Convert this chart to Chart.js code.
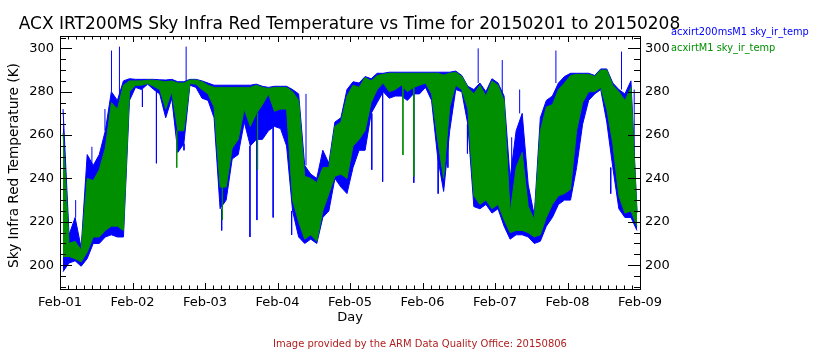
<!DOCTYPE html>
<html lang="en">
<head>
<meta charset="utf-8"/>
<title>ACX IRT200MS Sky Infra Red Temperature</title>
<script src="https://cdn.jsdelivr.net/npm/chart.js@4.4.1/dist/chart.umd.min.js"></script>
<style>
  html, body { margin: 0; padding: 0; background: #fff; }
</style>
</head>
<body>
<canvas id="myChart" width="840" height="350"></canvas>
<script>
  // two-hour bins from Feb-01 00:00: bulk of the trace (upper / lower edge, K)
  var binDays = 1 / 12;
  var greenHi = [261,210,211,207,240,239,244,254,275,272,283,285,
                 285,285,285.3,285.3,285,284.6,285,284,284,285.4,285.4,284.6,
                 283,282,282,282,282,282,282,282,283,282,281.5,282,
                 282,282,280,276,241,240,238,245,245,264,266,278,
                 283,282,286.5,285,287.5,288,288.5,288.5,288.5,288.5,288.5,288.5,
                 288.5,288.5,288.5,287.7,288.5,289,287,282,279,283,278,285,
                 283,276,224,245,252,227,221,262,273,274,281,284,
                 287.5,288,288,288,287,290,290,283,280,276,282,224];
  var greenLo = [204,204,203,201.5,206,213,213,216,218,218,216,280,
                 283,283,283.8,282.5,281,272,280,262,262,283.8,283.5,281,
                 279,273,236,236,254,258,272,264,270,274,279,271,
                 272,272,230,220,212,214,211,225,233,241,242,240,
                 255,258,262,275,281,284,280,281,283,280,282,283,
                 284,279,258,240,273,283,281,272,232,228,230,226,
                 228,221,215,216,216,215,213,214,222,228,232,233,
                 235,262,275,280,280,282,272,256,232,224,225,218];
  var blueHi = [272,214,222,208,251,246,251,262,280,276,285,286,
                285.7,285.7,285.7,285.7,285.5,285.4,285.7,284.6,284.6,285.7,285.7,285,
                284,283,283,283,283,283,283,283,283.5,282.5,282,282.5,
                282.5,282.5,281,279,246,242,240,253,247,266,268,281,
                284.6,284,287,286,288.5,288.5,289,289,289,289,289,289,
                289,289,289,289,289,289.5,287.5,282.5,281,284,280,286,
                284,278,240,262,270,237,223,268,276,278,284,287,
                288.5,288.5,288.5,288.5,287.5,290.5,290.5,284,281,279,285,225];
  var blueLo = [197,201,202,199.5,203,210,210,213,214,213,213,276,
                282,281,283.5,281,279,268,277,252,256,283,282,277,
                276,268,226,230,249,251,266,255,258,258,262,264,
                263,255,225,213,210,212,210,222,225,240,236,233,
                245,253,253,270,275,280,277,278,278,276,279,279,
                282,276,250,234,262,281,280,265,227,226,228,224,
                226,218,212,214,214,213,210,211,218,222,228,230,
                230,245,265,276,279,281,266,245,226,222,222,216];

  // isolated single-sample spikes: time (days after Feb-01 00:00) and tip value (K)
  var blueSpikeDay = [0.216,0.44,0.62,0.71,0.82,1.137,1.33,1.71,1.74,2.23,2.62,2.716,2.94,3.195,3.393,
                      4.30,4.45,4.88,5.216,5.35,5.62,5.768,6.10,6.23,6.34,6.84,7.596,7.745,7.92];
  var blueSpikeTip = [230,254.6,272,299,300.8,273,247,253,300.8,216,213,220.8,222,214,279,
                      244,238.5,238,233,245,251.5,300,294.6,259,281,299,233,298.5,281];
  var greenSpikeDay = [1.61,2.24,2.725,4.73,4.88];
  var greenSpikeTip = [245,221,244,250.8,241];

  var dayTicks = [0, 1, 2, 3, 4, 5, 6, 7, 8];
  var dayLabels = ["Feb-01", "Feb-02", "Feb-03", "Feb-04", "Feb-05", "Feb-06", "Feb-07", "Feb-08", "Feb-09"];
  var tempTicks = [200, 220, 240, 260, 280, 300];

  var titleText = "ACX IRT200MS Sky Infra Red Temperature vs Time for 20150201 to 20150208";
  var seriesNames = ["acxirt200msM1 sky_ir_temp", "acxirtM1 sky_ir_temp"];
  var footerText = "Image provided by the ARM Data Quality Office: 20150806";

  var BLUE = "#0000ff";
  var GREEN = "#008f00";
  var FAMILY = "'DejaVu Sans', sans-serif";

  function edge(vals) {
    return vals.map(function (v, i) { return { x: (i + 0.5) * binDays, y: v }; });
  }

  // each spike is a vertical stroke from the edge of the bulk to its tip
  function spikes(days, tips, hi, lo) {
    var pts = [];
    days.forEach(function (d, i) {
      var b = Math.min(hi.length - 1, Math.floor(d / binDays));
      var base = tips[i] > hi[b] ? hi[b] : lo[b];
      pts.push({ x: d, y: base }, { x: d, y: tips[i] }, { x: d, y: null });
    });
    return pts;
  }

  var measureCtx = document.createElement("canvas").getContext("2d");
  function fitSize(text, width) {
    measureCtx.font = "100px " + FAMILY;
    return 100 * width / measureCtx.measureText(text).width;
  }

  var tickFont = { family: FAMILY, size: 13 };

  var decorations = {
    id: "decorations",
    afterDraw: function (chart) {
      var ctx = chart.ctx, a = chart.chartArea;
      var xs = chart.scales.x, ys = chart.scales.y;
      ctx.save();
      ctx.strokeStyle = "#000";
      ctx.lineWidth = 1;
      ctx.strokeRect(a.left + 0.5, a.top + 0.5, a.right - a.left, a.bottom - a.top);

      ctx.beginPath();
      for (var d = 0; d <= 8 * 9; d++) {
        var px = Math.round(xs.getPixelForValue(d / 9)) + 0.5;
        var len = (d % 9 === 0) ? 6 : 3.5;
        ctx.moveTo(px, a.bottom); ctx.lineTo(px, a.bottom - len);
        ctx.moveTo(px, a.top); ctx.lineTo(px, a.top + len);
      }
      for (var v = 190; v <= 305; v += 5) {
        var py = Math.round(ys.getPixelForValue(v)) + 0.5;
        var l = (v % 20 === 0) ? 12 : 6;
        ctx.moveTo(a.left, py); ctx.lineTo(a.left + l, py);
        ctx.moveTo(a.right, py); ctx.lineTo(a.right - l, py);
      }
      ctx.stroke();

      ctx.fillStyle = "#000";
      ctx.textBaseline = "alphabetic";
      ctx.textAlign = "center";
      ctx.font = fitSize(titleText, 662).toFixed(2) + "px " + FAMILY;
      ctx.fillText(titleText, 349.5, 29);

      ctx.font = "13px " + FAMILY;
      ctx.fillText("Day", 350, 321);

      ctx.save();
      ctx.translate(18, 165.5);
      ctx.rotate(-Math.PI / 2);
      ctx.font = fitSize("Sky Infra Red Temperature (K)", 205).toFixed(2) + "px " + FAMILY;
      ctx.fillText("Sky Infra Red Temperature (K)", 0, 0);
      ctx.restore();

      ctx.textAlign = "left";
      ctx.font = fitSize(seriesNames[0], 138).toFixed(2) + "px " + FAMILY;
      ctx.fillStyle = BLUE;
      ctx.fillText(seriesNames[0], 671, 35);
      ctx.fillStyle = GREEN;
      ctx.fillText(seriesNames[1], 671, 50.5);

      ctx.textAlign = "center";
      ctx.fillStyle = "#b01e1e";
      ctx.font = fitSize(footerText, 294).toFixed(2) + "px " + FAMILY;
      ctx.fillText(footerText, 420, 347);
      ctx.restore();
    }
  };

  function tempAxis(position, width, pad) {
    return {
      type: "linear",
      position: position,
      min: 189,
      max: 305.7,
      afterBuildTicks: function (s) { s.ticks = tempTicks.map(function (v) { return { value: v }; }); },
      afterFit: function (s) { s.width = width; },
      ticks: { font: tickFont, color: "#000", padding: pad },
      grid: { display: false, drawTicks: false },
      border: { display: false }
    };
  }

  function band(label, vals, color, fill) {
    return { label: label, data: edge(vals), borderColor: color, backgroundColor: color, borderWidth: 1, fill: fill };
  }
  function strokes(label, pts, color) {
    return { label: label, data: pts, borderColor: color, borderWidth: 1, fill: false, spanGaps: false };
  }

  new Chart(document.getElementById("myChart"), {
    type: "line",
    data: {
      datasets: [
        strokes(seriesNames[1] + " spikes", spikes(greenSpikeDay, greenSpikeTip, greenHi, greenLo), GREEN),
        band(seriesNames[1], greenHi, GREEN, "+1"),
        band(seriesNames[1] + " low", greenLo, GREEN, false),
        strokes(seriesNames[0] + " spikes", spikes(blueSpikeDay, blueSpikeTip, blueHi, blueLo), BLUE),
        band(seriesNames[0], blueHi, BLUE, "+1"),
        band(seriesNames[0] + " low", blueLo, BLUE, false)
      ]
    },
    options: {
      responsive: false,
      animation: false,
      events: [],
      layout: { padding: { top: 36, left: 0, right: 0, bottom: 0 } },
      elements: { point: { radius: 0 }, line: { tension: 0 } },
      plugins: { legend: { display: false }, title: { display: false }, tooltip: { enabled: false } },
      scales: {
        x: {
          type: "linear",
          min: 0,
          max: 8,
          afterBuildTicks: function (s) { s.ticks = dayTicks.map(function (v) { return { value: v }; }); },
          afterFit: function (s) { s.height = 61; },
          ticks: {
            font: tickFont, color: "#000", padding: 6, maxRotation: 0, autoSkip: false,
            callback: function (v, i) { return dayLabels[i]; }
          },
          grid: { display: false, drawTicks: false },
          border: { display: false }
        },
        y: tempAxis("left", 60, 6),
        y2: tempAxis("right", 200, 5)
      }
    },
    plugins: [decorations]
  });
</script>
</body>
</html>
